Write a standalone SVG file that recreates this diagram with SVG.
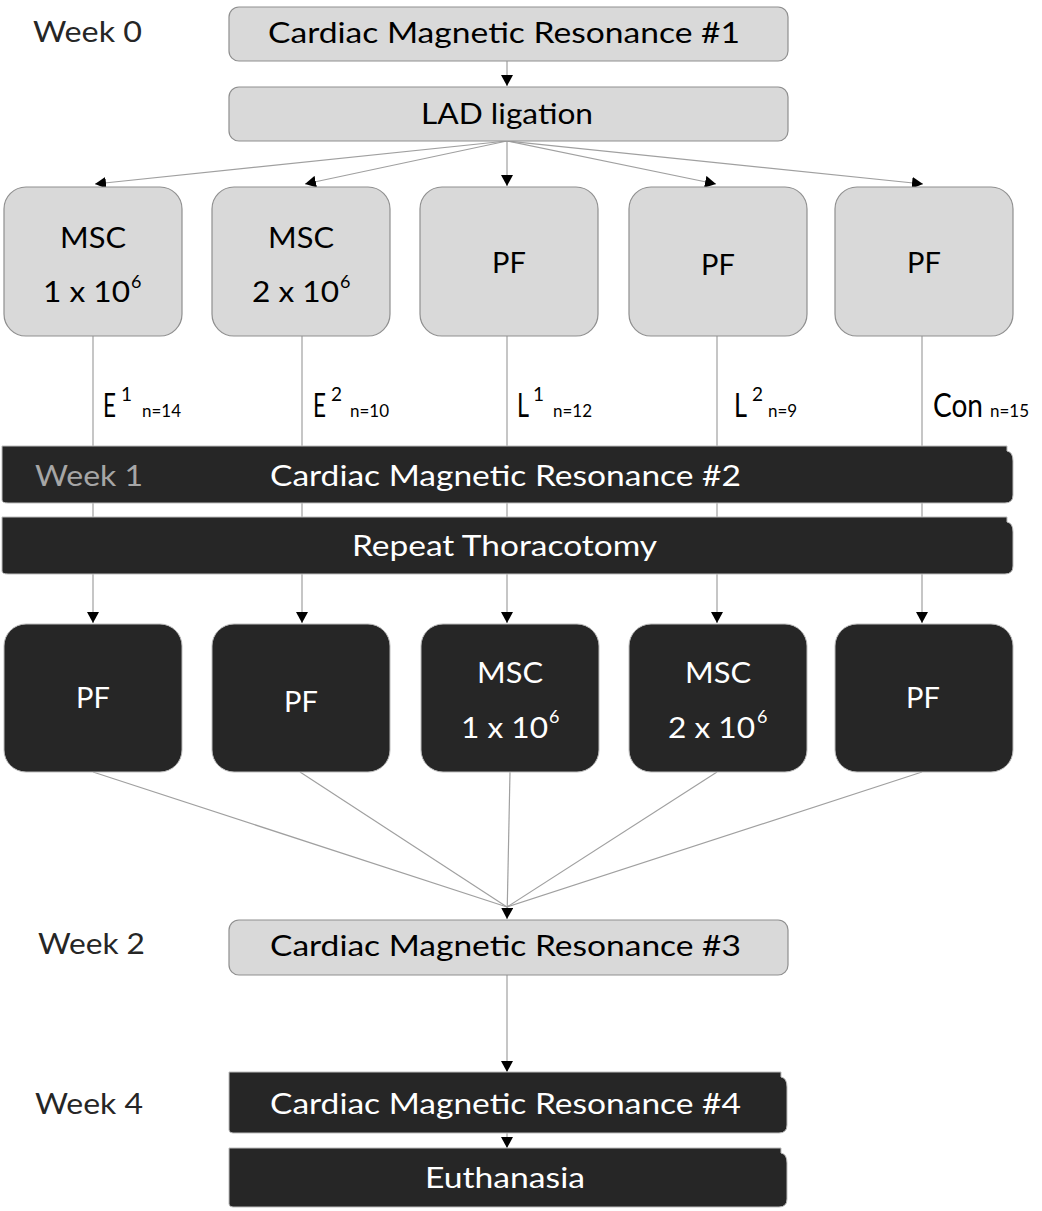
<svg xmlns="http://www.w3.org/2000/svg" width="1042" height="1211" viewBox="0 0 1042 1211">
<defs>
<marker id="ah" markerUnits="userSpaceOnUse" markerWidth="11" markerHeight="12" refX="11" refY="6" orient="auto">
<path d="M0,0 L11,6 L0,12 Z" fill="#000"/>
</marker>
<style>
text{font-family:Lato,"Liberation Sans",sans-serif;}
.lt{fill:#d9d9d9;stroke:#8f8f8f;stroke-width:1.2;}
.dk{fill:#262626;stroke:#bdbdbd;stroke-width:1;}
.bt{fill:#000;font-size:29px;}
.wt{fill:#fff;font-size:29px;}
.wk{fill:#262626;font-size:29px;}
.sup{font-size:18px;}
.ls{font-size:19px;fill:#000;}
.sm{font-size:17px;fill:#000;}
.lab{font-size:32px;fill:#000;}
.cn{stroke:#a0a0a0;stroke-width:1.2;fill:none;}
</style>
</defs>
<rect width="1042" height="1211" fill="#fff"/>

<g id="connectors">
<line class="cn" x1="507" y1="61" x2="507" y2="86" marker-end="url(#ah)"/>
<line class="cn" x1="507" y1="141" x2="95" y2="184" marker-end="url(#ah)"/>
<line class="cn" x1="507" y1="141" x2="305" y2="184" marker-end="url(#ah)"/>
<line class="cn" x1="507" y1="141" x2="507" y2="186" marker-end="url(#ah)"/>
<line class="cn" x1="507" y1="141" x2="716" y2="184" marker-end="url(#ah)"/>
<line class="cn" x1="507" y1="141" x2="923" y2="184" marker-end="url(#ah)"/>
<line class="cn" x1="93" y1="336" x2="93" y2="623" marker-end="url(#ah)"/>
<line class="cn" x1="302" y1="336" x2="302" y2="623" marker-end="url(#ah)"/>
<line class="cn" x1="507" y1="336" x2="507" y2="623" marker-end="url(#ah)"/>
<line class="cn" x1="717" y1="336" x2="717" y2="623" marker-end="url(#ah)"/>
<line class="cn" x1="922" y1="336" x2="922" y2="623" marker-end="url(#ah)"/>
<line class="cn" x1="93" y1="772" x2="507" y2="907"/>
<line class="cn" x1="300" y1="772" x2="507" y2="907"/>
<line class="cn" x1="717" y1="772" x2="507" y2="907"/>
<line class="cn" x1="922" y1="772" x2="507" y2="907"/>
<line class="cn" x1="510" y1="772" x2="507" y2="919" marker-end="url(#ah)"/>
<line class="cn" x1="507" y1="975" x2="507" y2="1072" marker-end="url(#ah)"/>
<line class="cn" x1="507" y1="1133" x2="507" y2="1148" marker-end="url(#ah)"/>
</g>

<g id="week0"><text class="wk" x="33" y="42" textLength="109" lengthAdjust="spacingAndGlyphs">Week 0</text></g>
<g id="cmr1">
<rect class="lt" x="229" y="7" width="559" height="54" rx="10"/>
<text class="bt" x="268" y="43" textLength="472" lengthAdjust="spacingAndGlyphs">Cardiac Magnetic Resonance #1</text>
</g>
<g id="lad">
<rect class="lt" x="229" y="87" width="559" height="54" rx="10"/>
<text class="bt" x="421" y="124" textLength="172" lengthAdjust="spacingAndGlyphs">LAD ligation</text>
</g>

<g id="top1">
<rect class="lt" x="4" y="187" width="178" height="149" rx="22"/>
<text class="bt" x="60" y="248" textLength="66" lengthAdjust="spacingAndGlyphs">MSC</text>
<text class="bt" x="43" y="302" textLength="87" lengthAdjust="spacingAndGlyphs">1 x 10</text>
<text class="bt sup" x="131" y="288">6</text>
</g>
<g id="top2">
<rect class="lt" x="212" y="187" width="178" height="149" rx="22"/>
<text class="bt" x="268" y="248" textLength="66" lengthAdjust="spacingAndGlyphs">MSC</text>
<text class="bt" x="252" y="302" textLength="87" lengthAdjust="spacingAndGlyphs">2 x 10</text>
<text class="bt sup" x="340" y="288">6</text>
</g>
<g id="top3">
<rect class="lt" x="420" y="187" width="178" height="149" rx="22"/>
<text class="bt" x="509" y="273" text-anchor="middle">PF</text>
</g>
<g id="top4">
<rect class="lt" x="629" y="187" width="178" height="149" rx="22"/>
<text class="bt" x="718" y="275" text-anchor="middle">PF</text>
</g>
<g id="top5">
<rect class="lt" x="835" y="187" width="178" height="149" rx="22"/>
<text class="bt" x="924" y="273" text-anchor="middle">PF</text>
</g>

<g id="labels">
<text class="lab" x="103" y="417" textLength="13" lengthAdjust="spacingAndGlyphs">E</text><text class="ls" x="121" y="401">1</text><text class="sm" x="142" y="417">n=14</text>
<text class="lab" x="313" y="417" textLength="13" lengthAdjust="spacingAndGlyphs">E</text><text class="ls" x="331" y="401">2</text><text class="sm" x="350" y="417">n=10</text>
<text class="lab" x="517" y="417" textLength="12" lengthAdjust="spacingAndGlyphs">L</text><text class="ls" x="533" y="401">1</text><text class="sm" x="553" y="417">n=12</text>
<text class="lab" x="734" y="417" textLength="13" lengthAdjust="spacingAndGlyphs">L</text><text class="ls" x="752" y="401">2</text><text class="sm" x="768" y="417">n=9</text>
<text class="lab" x="933" y="417" textLength="50" lengthAdjust="spacingAndGlyphs">Con</text><text class="sm" x="990" y="417">n=15</text>
</g>

<g id="cmr2">
<path class="dk" d="M2,446 H1007 V451 Q1013,452 1013,461 V495 Q1013,503 1005,503 H8 Q2,503 2,500 Z"/>
<text x="35" y="486" font-size="29" fill="#a6a6a6" textLength="108" lengthAdjust="spacingAndGlyphs">Week 1</text>
<text class="wt" x="270" y="486" textLength="471" lengthAdjust="spacingAndGlyphs">Cardiac Magnetic Resonance #2</text>
</g>
<g id="thoracotomy">
<path class="dk" d="M2,517 H1007 V522 Q1013,523 1013,532 V566 Q1013,574 1005,574 H8 Q2,574 2,571 Z"/>
<text class="wt" x="352" y="556" textLength="305" lengthAdjust="spacingAndGlyphs">Repeat Thoracotomy</text>
</g>

<g id="bot1">
<rect class="dk" x="4" y="624" width="178" height="148" rx="22"/>
<text class="wt" x="93" y="708" text-anchor="middle">PF</text>
</g>
<g id="bot2">
<rect class="dk" x="212" y="624" width="178" height="148" rx="22"/>
<text class="wt" x="301" y="712" text-anchor="middle">PF</text>
</g>
<g id="bot3">
<rect class="dk" x="421" y="624" width="178" height="148" rx="22"/>
<text class="wt" x="477" y="683" textLength="66" lengthAdjust="spacingAndGlyphs">MSC</text>
<text class="wt" x="461" y="738" textLength="87" lengthAdjust="spacingAndGlyphs">1 x 10</text>
<text class="wt sup" x="549" y="723">6</text>
</g>
<g id="bot4">
<rect class="dk" x="629" y="624" width="178" height="148" rx="22"/>
<text class="wt" x="685" y="683" textLength="66" lengthAdjust="spacingAndGlyphs">MSC</text>
<text class="wt" x="668" y="738" textLength="87" lengthAdjust="spacingAndGlyphs">2 x 10</text>
<text class="wt sup" x="757" y="723">6</text>
</g>
<g id="bot5">
<rect class="dk" x="835" y="624" width="178" height="148" rx="22"/>
<text class="wt" x="923" y="708" text-anchor="middle">PF</text>
</g>

<g id="week2"><text class="wk" x="38" y="954" textLength="107" lengthAdjust="spacingAndGlyphs">Week 2</text></g>
<g id="cmr3">
<rect class="lt" x="229" y="920" width="559" height="55" rx="10"/>
<text class="bt" x="270" y="956" textLength="471" lengthAdjust="spacingAndGlyphs">Cardiac Magnetic Resonance #3</text>
</g>
<g id="week4"><text class="wk" x="35" y="1114" textLength="108" lengthAdjust="spacingAndGlyphs">Week 4</text></g>
<g id="cmr4">
<path class="dk" d="M229,1072 H781 V1077 Q787,1078 787,1087 V1125 Q787,1133 779,1133 H233 Q229,1133 229,1130 Z"/>
<text class="wt" x="270" y="1114" textLength="471" lengthAdjust="spacingAndGlyphs">Cardiac Magnetic Resonance #4</text>
</g>
<g id="euthanasia">
<path class="dk" d="M229,1148 H781 V1153 Q787,1154 787,1163 V1199 Q787,1207 779,1207 H233 Q229,1207 229,1204 Z"/>
<text class="wt" x="425" y="1188" textLength="160" lengthAdjust="spacingAndGlyphs">Euthanasia</text>
</g>
</svg>
